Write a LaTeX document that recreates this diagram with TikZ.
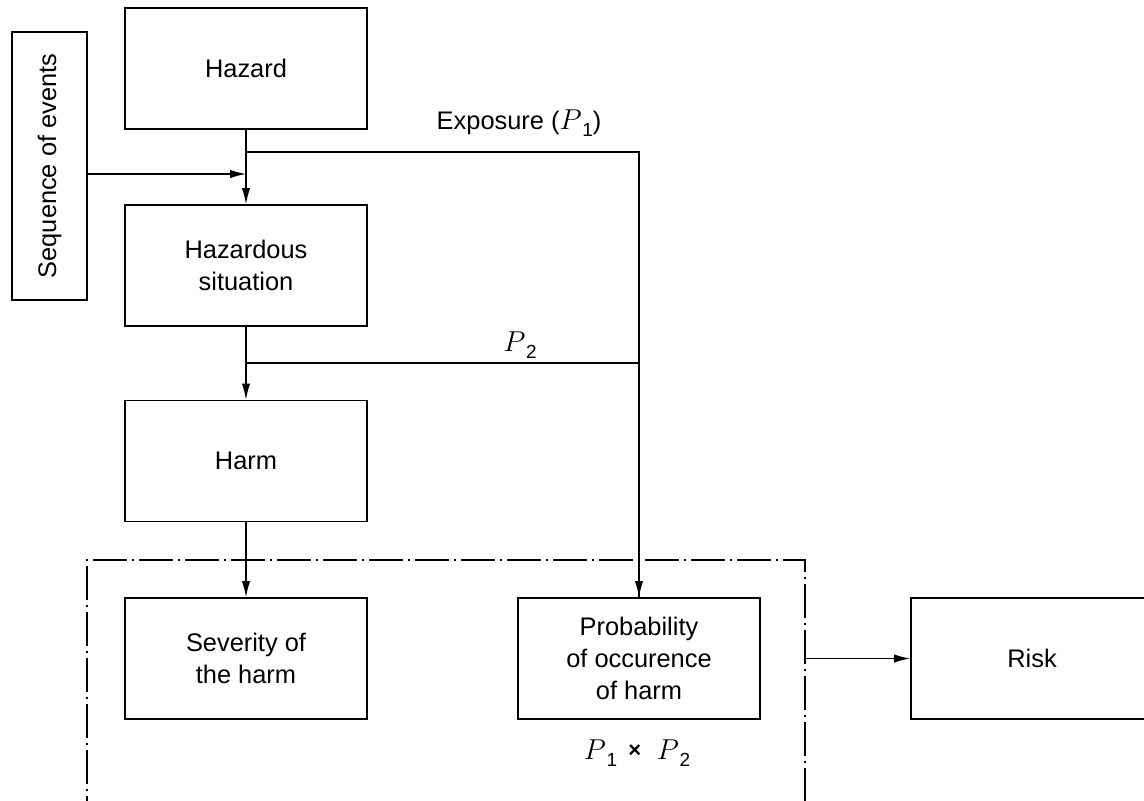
\documentclass[tikz,border=0pt]{standalone}
\usepackage{fontspec}
\setmainfont{Liberation Sans}
\usetikzlibrary{arrows.meta}
\newcommand\PP[1]{{\fontsize{14.5}{16}\selectfont$P$}\kern0.3pt\raisebox{-0.5ex}{\fontsize{9.5}{10}\selectfont #1}}
\tikzset{
  box/.style={draw, line width=0.95pt, minimum width=121pt, minimum height=60.5pt, align=center, inner sep=0pt, font=\fontsize{12.7}{16}\selectfont},
  conn/.style={line width=0.6pt},
  arr/.style={conn, -{Latex[length=8pt,width=4.2pt]}},
  lbl/.style={font=\fontsize{12.7}{16}\selectfont, inner sep=0pt},
  dashdot/.style={line width=0.6pt, dash pattern=on 17pt off 2.5pt on 1pt off 2.5pt}
}
\begin{document}
\begin{tikzpicture}[x=0.5pt,y=-0.5pt]
\clip (0,0) rectangle (1144,800);
\fill[white] (0,0) rectangle (1144,800);
% boxes
\node[box] (hz) at (246,68.5) {Hazard};
\node[box, rotate=90, minimum width=134pt, minimum height=37.5pt] (seq) at (49.5,166) {Sequence of events};
\node[box] (hs) at (246,265.5) {Hazardous\\situation};
\node[box] (hm) at (246,461) {Harm};
\node[box] (sev) at (246,658.5) {Severity of\\the harm};
\node[box] (pr) at (639,658.5) {Probability\\of occurence\\of harm};
\node[box] (rk) at (1032,658.5) {Risk};
% dash-dot frame
\draw[dashdot] (87,830) -- (87,560) -- (805,560) -- (805,830);
\coordinate (fr) at (805,658.5);
% junctions
\coordinate (j1) at (246,152);
\coordinate (j0) at (246,174);
\coordinate (j2) at (246,363);
% connectors
\draw[arr] (hz.south) -- (hs.north);
\draw[conn] (j1) -| (pr.north);
\draw[arr] (j1 -| pr.north) -- (pr.north);
\draw[arr] (seq.south |- j0) -- (j0);
\draw[arr] (hs.south) -- (hm.north);
\draw[conn] (j2) -- (j2 -| pr.north);
\draw[arr] (hm.south) -- (sev.north);
\draw[arr] (fr) -- (rk.west);
% labels
\node[lbl] (lexp) at (519,123) {Exposure (\PP{1})};
\node[lbl] (lp2) at (520,345) {\PP{2}};
\node[lbl] (lp12) at (637,753) {\PP{1} \,\raisebox{0.15ex}{\fontsize{11}{11}\selectfont\bfseries ×}\,\, \PP{2}};
\end{tikzpicture}
\end{document}
